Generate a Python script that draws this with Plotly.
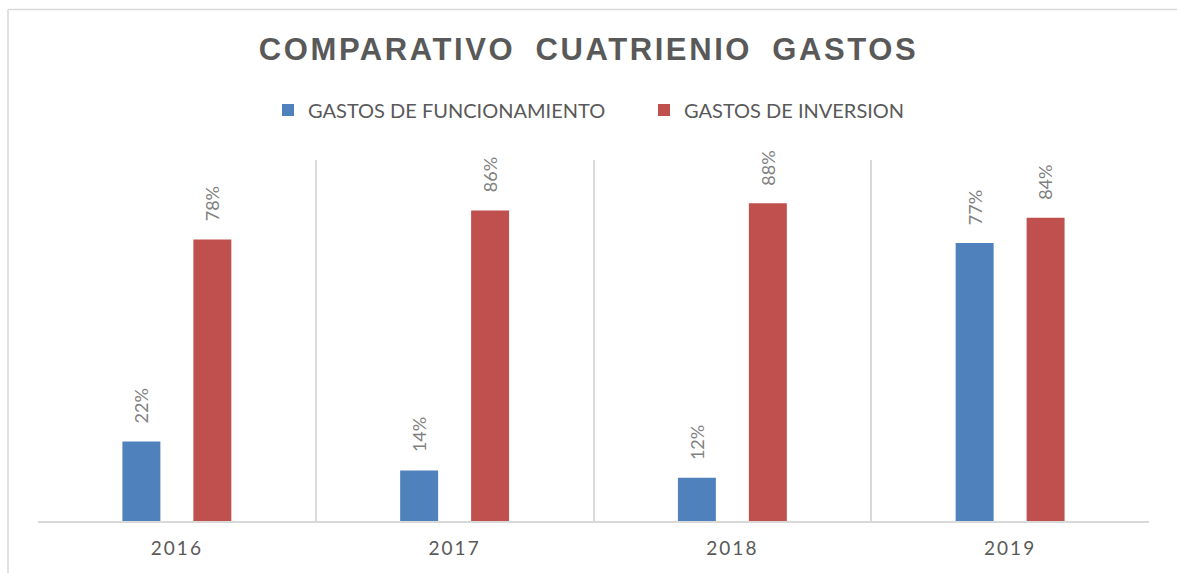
import plotly.graph_objects as go

# Años del cuatrienio y participación porcentual de cada tipo de gasto
years = ["2016", "2017", "2018", "2019"]
funcionamiento = [22, 14, 12, 77]
inversion = [78, 86, 88, 84]

series_names = ["GASTOS DE FUNCIONAMIENTO", "GASTOS DE INVERSION"]
series_colors = ["#4F81BD", "#C0504D"]

W, H = 1177, 573
M_L, M_R, M_T, M_B = 38, 28, 160, 52
BARGAP, BARGROUPGAP = 0.489, 0.465

fig = go.Figure()
for name, vals, color in zip(series_names, [funcionamiento, inversion], series_colors):
    fig.add_trace(go.Bar(x=years, y=vals, name=name, marker=dict(color=color, line=dict(width=0))))

# Etiquetas de valor giradas sobre cada barra
plot_w = W - M_L - M_R
cat_w = plot_w / len(years)
shift = cat_w * (1 - BARGAP) / 4
annotations = []
for k, vals in enumerate([funcionamiento, inversion]):
    for j, v in enumerate(vals):
        annotations.append(dict(
            x=j, y=v, xref="x", yref="y", text=f"{v}%", showarrow=False,
            textangle=-90, xanchor="center", yanchor="bottom",
            xshift=(-shift if k == 0 else shift), yshift=16,
            font=dict(family="Lato", size=18, color="#808080"),
        ))

plot_h = H - M_T - M_B
# Marco exterior del gráfico (borde superior e izquierdo)
frame_color = "#D9D9D9"
shapes = [
    dict(type="line", xref="paper", yref="paper",
         x0=-(M_L - 8) / plot_w, x1=(W - M_L) / plot_w,
         y0=(H - M_B - 9.5) / plot_h, y1=(H - M_B - 9.5) / plot_h,
         line=dict(color=frame_color, width=1.5)),
    dict(type="line", xref="paper", yref="paper",
         x0=-(M_L - 8) / plot_w, x1=-(M_L - 8) / plot_w,
         y0=-M_B / plot_h, y1=(H - M_B - 9.5) / plot_h,
         line=dict(color=frame_color, width=1.5)),
]

fig.update_layout(
    width=W, height=H,
    margin=dict(l=M_L, r=M_R, t=M_T, b=M_B),
    paper_bgcolor="white", plot_bgcolor="white",
    barmode="group", bargap=BARGAP, bargroupgap=BARGROUPGAP,
    title=dict(text="<b>COMPARATIVO CUATRIENIO GASTOS</b>", x=0.5, xref="container",
               y=1 - 49 / H, yref="container", xanchor="center", yanchor="middle",
               font=dict(family="Liberation Sans", size=31, color="#595959")),
    legend=dict(orientation="h", x=(268 - M_L) / plot_w, xanchor="left",
                y=(H - M_B - 110) / plot_h,
                yanchor="middle", font=dict(family="Lato", size=20, color="#595959"),
                entrywidth=331, entrywidthmode="pixels", bgcolor="rgba(0,0,0,0)"),
    showlegend=True,
    xaxis=dict(type="category", range=[-0.5, len(years) - 0.5], tickson="boundaries",
               showgrid=True, gridcolor=frame_color,
               gridwidth=1.5, showline=True, linecolor=frame_color, linewidth=2,
               ticks="", ticklabelstandoff=9,
               tickfont=dict(family="Lato", size=19, color="#595959"),
               fixedrange=True),
    yaxis=dict(range=[0, 100], visible=False, showgrid=False, zeroline=False, fixedrange=True),
    annotations=annotations,
    shapes=shapes,
)

# Espaciado de letras del título y de los años
spacing_css = (
    "var s=document.createElement('style');"
    "s.textContent='.gtitle{letter-spacing:2.6px;word-spacing:9px}"
    " .xtick text{letter-spacing:2px}';"
    "document.head.appendChild(s);"
)

fig.write_html("out.html", post_script=spacing_css)
